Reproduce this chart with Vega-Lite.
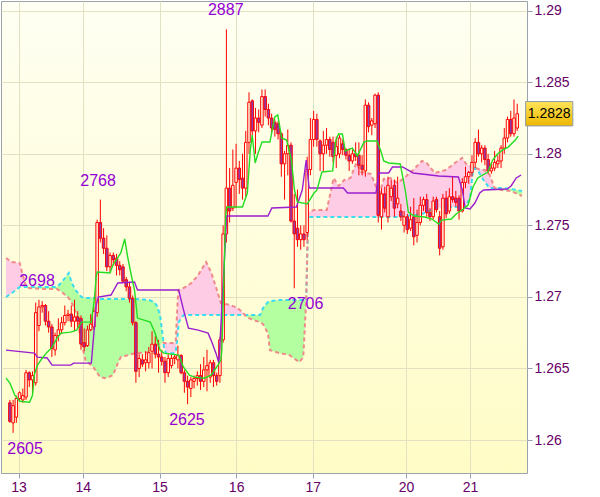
{
  "$schema": "https://vega.github.io/schema/vega-lite/v6.json",
  "width": 526,
  "height": 472,
  "autosize": {"type": "none"},
  "padding": {"left": 1, "top": 1, "right": 73, "bottom": 24},
  "background": "white",
  "config": {
    "view": {"stroke": "#9AA3AC", "strokeWidth": 1, "fill": {"gradient": "linear", "x1": 0, "y1": 0, "x2": 0, "y2": 1, "stops": [{"offset": 0, "color": "#FFFFF3"}, {"offset": 1, "color": "#FFFCC6"}]}},
    "axis": {"labelFont": "Liberation Sans", "labelFontSize": 14, "labelColor": "#660066", "gridColor": "#E2E2C2", "tickColor": "#9AA3AC", "domain": false, "tickSize": 5}
  },
  "datasets": {
    "candles": [
      {"i":1,"o":1.2626,"h":1.2628,"l":1.2612,"c":1.2613},
      {"i":2,"o":1.2612,"h":1.2628,"l":1.2605,"c":1.2624},
      {"i":3,"o":1.2616,"h":1.2631,"l":1.2612,"c":1.2629},
      {"i":4,"o":1.2629,"h":1.2634,"l":1.2627,"c":1.2633},
      {"i":5,"o":1.2628,"h":1.2636,"l":1.2626,"c":1.2631},
      {"i":6,"o":1.2630,"h":1.2649,"l":1.2628,"c":1.2647},
      {"i":7,"o":1.2647,"h":1.2648,"l":1.2637,"c":1.2642},
      {"i":8,"o":1.2642,"h":1.2648,"l":1.2631,"c":1.2645},
      {"i":9,"o":1.2640,"h":1.2696,"l":1.2638,"c":1.2689},
      {"i":10,"o":1.2680,"h":1.2698,"l":1.2676,"c":1.2693},
      {"i":11,"o":1.2693,"h":1.2697,"l":1.2689,"c":1.2694},
      {"i":12,"o":1.2694,"h":1.2695,"l":1.2680,"c":1.2683},
      {"i":13,"o":1.2683,"h":1.2690,"l":1.2675,"c":1.2679},
      {"i":14,"o":1.2679,"h":1.2681,"l":1.2658,"c":1.2664},
      {"i":15,"o":1.2663,"h":1.2675,"l":1.2659,"c":1.2673},
      {"i":16,"o":1.2673,"h":1.2685,"l":1.2669,"c":1.2677},
      {"i":17,"o":1.2677,"h":1.2686,"l":1.2674,"c":1.2682},
      {"i":18,"o":1.2682,"h":1.2694,"l":1.2680,"c":1.2687},
      {"i":19,"o":1.2687,"h":1.2691,"l":1.2683,"c":1.2688},
      {"i":20,"o":1.2688,"h":1.2694,"l":1.2679,"c":1.2683},
      {"i":21,"o":1.2683,"h":1.2698,"l":1.2676,"c":1.2686},
      {"i":22,"o":1.2686,"h":1.2690,"l":1.2678,"c":1.2683},
      {"i":23,"o":1.2685,"h":1.2687,"l":1.2663,"c":1.2667},
      {"i":24,"o":1.2668,"h":1.2678,"l":1.2662,"c":1.2665},
      {"i":25,"o":1.2666,"h":1.2680,"l":1.2665,"c":1.2677},
      {"i":26,"o":1.2677,"h":1.2688,"l":1.2676,"c":1.2681},
      {"i":27,"o":1.2679,"h":1.2693,"l":1.2677,"c":1.2690},
      {"i":28,"o":1.2689,"h":1.2754,"l":1.2686,"c":1.2752},
      {"i":29,"o":1.2752,"h":1.2768,"l":1.2738,"c":1.2741},
      {"i":30,"o":1.2741,"h":1.2748,"l":1.2730,"c":1.2734},
      {"i":31,"o":1.2734,"h":1.2743,"l":1.2718,"c":1.2721},
      {"i":32,"o":1.2721,"h":1.2731,"l":1.2717,"c":1.2729},
      {"i":33,"o":1.2729,"h":1.2731,"l":1.2722,"c":1.2726},
      {"i":34,"o":1.2727,"h":1.2730,"l":1.2715,"c":1.2722},
      {"i":35,"o":1.2722,"h":1.2725,"l":1.2715,"c":1.2719},
      {"i":36,"o":1.2721,"h":1.2723,"l":1.2710,"c":1.2711},
      {"i":37,"o":1.2712,"h":1.2714,"l":1.2704,"c":1.2707},
      {"i":38,"o":1.2707,"h":1.2710,"l":1.2696,"c":1.2699},
      {"i":39,"o":1.2699,"h":1.2701,"l":1.2680,"c":1.2682},
      {"i":40,"o":1.2682,"h":1.2683,"l":1.2640,"c":1.2648},
      {"i":41,"o":1.2650,"h":1.2660,"l":1.2644,"c":1.2657},
      {"i":42,"o":1.2656,"h":1.2660,"l":1.2651,"c":1.2653},
      {"i":43,"o":1.2654,"h":1.2662,"l":1.2648,"c":1.2656},
      {"i":44,"o":1.2654,"h":1.2665,"l":1.2650,"c":1.2661},
      {"i":45,"o":1.2662,"h":1.2676,"l":1.2650,"c":1.2667},
      {"i":46,"o":1.2667,"h":1.2673,"l":1.2657,"c":1.2660},
      {"i":47,"o":1.2660,"h":1.2670,"l":1.2647,"c":1.2658},
      {"i":48,"o":1.2658,"h":1.2663,"l":1.2652,"c":1.2655},
      {"i":49,"o":1.2655,"h":1.2658,"l":1.2640,"c":1.2647},
      {"i":50,"o":1.2647,"h":1.2660,"l":1.2644,"c":1.2657},
      {"i":51,"o":1.2652,"h":1.2660,"l":1.2650,"c":1.2657},
      {"i":52,"o":1.2657,"h":1.2660,"l":1.2653,"c":1.2658},
      {"i":53,"o":1.2656,"h":1.2666,"l":1.2650,"c":1.2659},
      {"i":54,"o":1.2659,"h":1.2660,"l":1.2646,"c":1.2647},
      {"i":55,"o":1.2647,"h":1.2649,"l":1.2633,"c":1.2641},
      {"i":56,"o":1.2641,"h":1.2645,"l":1.2625,"c":1.2637},
      {"i":57,"o":1.2636,"h":1.2644,"l":1.2630,"c":1.2642},
      {"i":58,"o":1.2641,"h":1.2645,"l":1.2636,"c":1.2643},
      {"i":59,"o":1.2643,"h":1.2648,"l":1.2638,"c":1.2645},
      {"i":60,"o":1.2645,"h":1.2653,"l":1.2635,"c":1.2641},
      {"i":61,"o":1.2641,"h":1.2658,"l":1.2637,"c":1.2649},
      {"i":62,"o":1.2649,"h":1.2663,"l":1.2634,"c":1.2652},
      {"i":63,"o":1.2644,"h":1.2656,"l":1.2640,"c":1.2654},
      {"i":64,"o":1.2654,"h":1.2656,"l":1.2637,"c":1.2645},
      {"i":65,"o":1.2645,"h":1.2647,"l":1.2638,"c":1.2641},
      {"i":66,"o":1.2645,"h":1.2672,"l":1.2640,"c":1.2670},
      {"i":67,"o":1.2670,"h":1.2750,"l":1.2668,"c":1.2744},
      {"i":68,"o":1.2744,"h":1.2887,"l":1.2738,"c":1.2776},
      {"i":69,"o":1.2776,"h":1.2790,"l":1.2752,"c":1.2760},
      {"i":70,"o":1.2762,"h":1.2803,"l":1.2760,"c":1.2778},
      {"i":71,"o":1.2780,"h":1.2807,"l":1.2762,"c":1.2790},
      {"i":72,"o":1.2790,"h":1.2795,"l":1.2772,"c":1.2782},
      {"i":73,"o":1.2783,"h":1.2800,"l":1.2768,"c":1.2776},
      {"i":74,"o":1.2776,"h":1.2816,"l":1.2770,"c":1.2808},
      {"i":75,"o":1.2808,"h":1.2843,"l":1.2800,"c":1.2836},
      {"i":76,"o":1.2837,"h":1.2838,"l":1.2813,"c":1.2816},
      {"i":77,"o":1.2816,"h":1.2832,"l":1.2800,"c":1.2825},
      {"i":78,"o":1.2825,"h":1.2831,"l":1.2815,"c":1.2822},
      {"i":79,"o":1.2820,"h":1.2845,"l":1.2818,"c":1.2840},
      {"i":80,"o":1.2840,"h":1.2845,"l":1.2826,"c":1.2831},
      {"i":81,"o":1.2831,"h":1.2835,"l":1.2820,"c":1.2825},
      {"i":82,"o":1.2825,"h":1.2828,"l":1.2815,"c":1.2818},
      {"i":83,"o":1.2822,"h":1.2824,"l":1.2812,"c":1.2817},
      {"i":84,"o":1.2821,"h":1.2823,"l":1.2810,"c":1.2814},
      {"i":85,"o":1.2814,"h":1.2815,"l":1.2784,"c":1.2793},
      {"i":86,"o":1.2793,"h":1.2802,"l":1.2768,"c":1.2800},
      {"i":87,"o":1.2800,"h":1.2817,"l":1.2785,"c":1.2806},
      {"i":88,"o":1.2806,"h":1.2808,"l":1.2752,"c":1.2753},
      {"i":89,"o":1.2753,"h":1.2772,"l":1.2706,"c":1.2744},
      {"i":90,"o":1.2748,"h":1.2775,"l":1.2735,"c":1.2740},
      {"i":91,"o":1.2740,"h":1.2750,"l":1.2733,"c":1.2744},
      {"i":92,"o":1.2744,"h":1.2750,"l":1.2735,"c":1.2740},
      {"i":93,"o":1.2745,"h":1.2798,"l":1.2740,"c":1.2789},
      {"i":94,"o":1.2789,"h":1.2825,"l":1.2785,"c":1.2810},
      {"i":95,"o":1.2810,"h":1.2830,"l":1.2805,"c":1.2824},
      {"i":96,"o":1.2824,"h":1.2828,"l":1.2805,"c":1.2810},
      {"i":97,"o":1.2809,"h":1.2810,"l":1.2788,"c":1.2800},
      {"i":98,"o":1.2800,"h":1.2816,"l":1.2788,"c":1.2806},
      {"i":99,"o":1.2806,"h":1.2818,"l":1.2800,"c":1.2810},
      {"i":100,"o":1.2810,"h":1.2812,"l":1.2798,"c":1.2803},
      {"i":101,"o":1.2808,"h":1.2812,"l":1.2794,"c":1.2798},
      {"i":102,"o":1.2799,"h":1.2812,"l":1.2790,"c":1.2805},
      {"i":103,"o":1.2800,"h":1.2813,"l":1.2797,"c":1.2811},
      {"i":104,"o":1.2807,"h":1.2810,"l":1.2799,"c":1.2803},
      {"i":105,"o":1.2803,"h":1.2804,"l":1.2796,"c":1.2799},
      {"i":106,"o":1.2799,"h":1.2804,"l":1.2788,"c":1.2795},
      {"i":107,"o":1.2795,"h":1.2803,"l":1.2793,"c":1.2800},
      {"i":108,"o":1.2800,"h":1.2808,"l":1.2795,"c":1.2798},
      {"i":109,"o":1.2799,"h":1.2808,"l":1.2785,"c":1.2792},
      {"i":110,"o":1.2792,"h":1.2799,"l":1.2785,"c":1.2789},
      {"i":111,"o":1.2788,"h":1.2838,"l":1.2784,"c":1.2834},
      {"i":112,"o":1.2834,"h":1.2836,"l":1.2815,"c":1.2819},
      {"i":113,"o":1.2820,"h":1.2825,"l":1.2813,"c":1.2823},
      {"i":114,"o":1.2821,"h":1.2842,"l":1.2818,"c":1.2841},
      {"i":115,"o":1.2841,"h":1.2843,"l":1.2752,"c":1.2757},
      {"i":116,"o":1.2756,"h":1.2776,"l":1.2747,"c":1.2772},
      {"i":117,"o":1.2772,"h":1.2777,"l":1.2759,"c":1.2762},
      {"i":118,"o":1.2756,"h":1.2784,"l":1.2752,"c":1.2778},
      {"i":119,"o":1.2770,"h":1.2782,"l":1.2767,"c":1.2776},
      {"i":120,"o":1.2778,"h":1.2782,"l":1.2756,"c":1.2762},
      {"i":121,"o":1.2765,"h":1.2784,"l":1.2762,"c":1.2769},
      {"i":122,"o":1.2760,"h":1.2765,"l":1.2753,"c":1.2756},
      {"i":123,"o":1.2750,"h":1.2760,"l":1.2745,"c":1.2756},
      {"i":124,"o":1.2756,"h":1.2758,"l":1.2744,"c":1.2747},
      {"i":125,"o":1.2748,"h":1.2763,"l":1.2746,"c":1.2754},
      {"i":126,"o":1.2756,"h":1.2769,"l":1.2736,"c":1.2742},
      {"i":127,"o":1.2743,"h":1.2761,"l":1.2738,"c":1.2752},
      {"i":128,"o":1.2752,"h":1.2770,"l":1.2750,"c":1.2764},
      {"i":129,"o":1.2764,"h":1.2770,"l":1.2760,"c":1.2768},
      {"i":130,"o":1.2768,"h":1.2772,"l":1.2756,"c":1.2759},
      {"i":131,"o":1.2759,"h":1.2762,"l":1.2753,"c":1.2756},
      {"i":132,"o":1.2756,"h":1.2770,"l":1.2754,"c":1.2767},
      {"i":133,"o":1.2768,"h":1.2770,"l":1.2759,"c":1.2761},
      {"i":134,"o":1.2756,"h":1.2760,"l":1.2729,"c":1.2734},
      {"i":135,"o":1.2735,"h":1.2772,"l":1.2733,"c":1.2769},
      {"i":136,"o":1.2769,"h":1.2774,"l":1.2755,"c":1.2758},
      {"i":137,"o":1.2760,"h":1.2776,"l":1.2758,"c":1.2770},
      {"i":138,"o":1.2770,"h":1.2784,"l":1.2766,"c":1.2768},
      {"i":139,"o":1.2769,"h":1.2774,"l":1.2763,"c":1.2766},
      {"i":140,"o":1.2769,"h":1.2771,"l":1.2754,"c":1.2760},
      {"i":141,"o":1.2760,"h":1.2783,"l":1.2759,"c":1.2780},
      {"i":142,"o":1.2780,"h":1.2791,"l":1.2776,"c":1.2784},
      {"i":143,"o":1.2784,"h":1.2788,"l":1.2779,"c":1.2787},
      {"i":144,"o":1.2787,"h":1.2799,"l":1.2784,"c":1.2794},
      {"i":145,"o":1.2794,"h":1.2811,"l":1.2790,"c":1.2808},
      {"i":146,"o":1.2808,"h":1.2817,"l":1.2798,"c":1.2800},
      {"i":147,"o":1.2800,"h":1.2806,"l":1.2794,"c":1.2804},
      {"i":148,"o":1.2804,"h":1.2806,"l":1.2792,"c":1.2796},
      {"i":149,"o":1.2796,"h":1.2800,"l":1.2786,"c":1.2788},
      {"i":150,"o":1.2788,"h":1.2794,"l":1.2786,"c":1.2790},
      {"i":151,"o":1.2790,"h":1.2802,"l":1.2788,"c":1.2794},
      {"i":152,"o":1.2793,"h":1.2799,"l":1.2790,"c":1.2795},
      {"i":153,"o":1.2795,"h":1.2806,"l":1.2790,"c":1.2804},
      {"i":154,"o":1.2804,"h":1.2818,"l":1.2800,"c":1.2811},
      {"i":155,"o":1.2811,"h":1.2826,"l":1.2808,"c":1.2824},
      {"i":156,"o":1.2824,"h":1.2830,"l":1.2812,"c":1.2814},
      {"i":157,"o":1.2814,"h":1.2838,"l":1.2812,"c":1.2825},
      {"i":158,"o":1.2818,"h":1.2835,"l":1.2816,"c":1.2828}
    ],
    "tenkan": [
      {"i":-0.2,"v":1.26432},{"i":1.02,"v":1.26397},{"i":2.53,"v":1.26313},{"i":4.05,"v":1.26271},{"i":7.09,"v":1.26264},{"i":8.0,"v":1.26313},{"i":8.61,"v":1.2646},{"i":9.52,"v":1.26523},{"i":11.04,"v":1.26573},{"i":12.55,"v":1.26614},{"i":14.07,"v":1.26649},{"i":15.59,"v":1.26712},{"i":16.8,"v":1.26747},{"i":19.84,"v":1.26754},{"i":21.66,"v":1.26768},{"i":23.18,"v":1.26824},{"i":26.21,"v":1.26824},{"i":27.12,"v":1.26978},{"i":27.73,"v":1.27146},{"i":28.04,"v":1.27174},{"i":31.98,"v":1.27167},{"i":32.89,"v":1.27223},{"i":35.32,"v":1.27307},{"i":36.54,"v":1.27405},{"i":37.45,"v":1.27279},{"i":38.36,"v":1.27174},{"i":39.57,"v":1.27048},{"i":40.48,"v":1.26852},{"i":44.43,"v":1.26824},{"i":45.95,"v":1.26747},{"i":47.47,"v":1.26628},{"i":48.68,"v":1.26607},{"i":53.23,"v":1.26593},{"i":54.75,"v":1.26509},{"i":56.57,"v":1.26453},{"i":58.09,"v":1.26439},{"i":61.13,"v":1.26432},{"i":63.25,"v":1.26453},{"i":65.38,"v":1.26523},{"i":66.29,"v":1.26558},{"i":66.59,"v":1.26628},{"i":67.2,"v":1.27118},{"i":67.81,"v":1.27572},{"i":68.11,"v":1.27628},{"i":72.97,"v":1.27628},{"i":74.48,"v":1.27726},{"i":75.39,"v":1.28026},{"i":76.0,"v":1.28131},{"i":76.91,"v":1.27936},{"i":77.82,"v":1.28005},{"i":79.04,"v":1.28082},{"i":81.47,"v":1.28082},{"i":82.98,"v":1.28257},{"i":83.9,"v":1.28271},{"i":85.11,"v":1.28111},{"i":86.63,"v":1.28096},{"i":88.14,"v":1.27956},{"i":89.06,"v":1.27747},{"i":89.97,"v":1.27663},{"i":93.0,"v":1.27649},{"i":95.13,"v":1.27726},{"i":96.04,"v":1.27747},{"i":97.56,"v":1.27873},{"i":100.9,"v":1.2788},{"i":101.8,"v":1.28089},{"i":102.7,"v":1.28138},{"i":103.9,"v":1.28138},{"i":104.8,"v":1.28019},{"i":107,"v":1.2804},{"i":108.5,"v":1.27985},{"i":110.6,"v":1.28082},{"i":111.5,"v":1.28089},{"i":114.6,"v":1.28089},{"i":115.8,"v":1.28019},{"i":116.7,"v":1.2795},{"i":118.2,"v":1.27936},{"i":121.8,"v":1.27929},{"i":123.4,"v":1.2774},{"i":124.3,"v":1.27593},{"i":126.1,"v":1.27565},{"i":129.4,"v":1.27558},{"i":131.6,"v":1.27544},{"i":133.7,"v":1.27509},{"i":134.6,"v":1.27537},{"i":137.6,"v":1.27544},{"i":139.1,"v":1.27579},{"i":141.3,"v":1.27614},{"i":142.8,"v":1.27642},{"i":144.3,"v":1.27768},{"i":145.8,"v":1.27831},{"i":148.9,"v":1.27873},{"i":150.4,"v":1.27956},{"i":151.9,"v":1.27999},{"i":153.4,"v":1.28026},{"i":155.2,"v":1.28047},{"i":157.4,"v":1.28096},{"i":158.3,"v":1.28124}
    ],
    "kijun": [
      {"i":-0.2,"v":1.26628},{"i":8.61,"v":1.26607},{"i":9.52,"v":1.26579},{"i":12.55,"v":1.26573},{"i":14.07,"v":1.26523},{"i":19.84,"v":1.26523},{"i":20.75,"v":1.26537},{"i":26.21,"v":1.26537},{"i":27.73,"v":1.26943},{"i":28.34,"v":1.26999},{"i":32.29,"v":1.27013},{"i":34.41,"v":1.27097},{"i":39.57,"v":1.27104},{"i":40.48,"v":1.27048},{"i":53.23,"v":1.27048},{"i":54.75,"v":1.26908},{"i":56.27,"v":1.26782},{"i":59.3,"v":1.26768},{"i":62.34,"v":1.26747},{"i":63.25,"v":1.26698},{"i":64.77,"v":1.26607},{"i":65.68,"v":1.26537},{"i":68.11,"v":1.27565},{"i":80.86,"v":1.27565},{"i":82.07,"v":1.27621},{"i":89.66,"v":1.27628},{"i":91.48,"v":1.27747},{"i":92.7,"v":1.27956},{"i":93.61,"v":1.27761},{"i":104.2,"v":1.27761},{"i":105.5,"v":1.27726},{"i":114.3,"v":1.27726},{"i":115.2,"v":1.27866},{"i":118.2,"v":1.27866},{"i":119.4,"v":1.27908},{"i":122.5,"v":1.27908},{"i":125.8,"v":1.27866},{"i":133.7,"v":1.27845},{"i":139.8,"v":1.27838},{"i":141,"v":1.27747},{"i":141.9,"v":1.27621},{"i":143.4,"v":1.27614},{"i":144.9,"v":1.27656},{"i":146.4,"v":1.27726},{"i":147.6,"v":1.27747},{"i":154.9,"v":1.27754},{"i":156.1,"v":1.27775},{"i":157.7,"v":1.27831},{"i":159.2,"v":1.27852}
    ],
    "cloud": [
      {"i":-0.2,"a":1.26999,"b":1.27272,"s":0,"f":"p"},{"i":1.62,"a":1.27027,"b":1.27244,"s":0,"f":"p"},{"i":4.05,"a":1.27069,"b":1.27237,"s":0,"f":"p"},{"i":4.96,"a":1.27069,"b":1.27153,"s":0,"f":"p"},{"i":5.87,"a":1.27069,"b":1.27083,"s":0,"f":"p"},{"i":6.28,"a":1.27069,"b":1.27069,"s":0,"f":"p"},
      {"i":6.28,"a":1.27069,"b":1.27069,"s":1,"f":"g"},{"i":6.48,"a":1.27069,"b":1.27062,"s":1,"f":"g"},{"i":11.64,"a":1.27069,"b":1.27055,"s":1,"f":"g"},{"i":15.59,"a":1.27069,"b":1.27055,"s":1,"f":"g"},{"i":17.11,"a":1.27104,"b":1.27034,"s":1,"f":"g"},{"i":19.23,"a":1.27167,"b":1.26992,"s":1,"f":"g"},{"i":20.14,"a":1.27097,"b":1.26957,"s":1,"f":"g"},{"i":21.36,"a":1.27048,"b":1.26894,"s":1,"f":"g"},{"i":22.27,"a":1.2702,"b":1.26789,"s":1,"f":"g"},{"i":23.18,"a":1.26999,"b":1.26677,"s":1,"f":"g"},{"i":24.39,"a":1.26992,"b":1.26558,"s":1,"f":"g"},{"i":26.82,"a":1.26992,"b":1.26509,"s":1,"f":"g"},{"i":28.95,"a":1.26985,"b":1.26439,"s":1,"f":"g"},{"i":30.77,"a":1.26985,"b":1.26432,"s":1,"f":"g"},{"i":32.89,"a":1.26985,"b":1.26453,"s":1,"f":"g"},{"i":34.41,"a":1.26985,"b":1.26537,"s":1,"f":"g"},{"i":35.32,"a":1.26985,"b":1.26579,"s":1,"f":"g"},{"i":39.87,"a":1.26985,"b":1.26607,"s":1,"f":"g"},{"i":44.13,"a":1.26978,"b":1.26614,"s":1,"f":"g"},{"i":45.64,"a":1.26964,"b":1.26642,"s":1,"f":"g"},{"i":46.55,"a":1.26936,"b":1.26663,"s":1,"f":"g"},{"i":47.47,"a":1.26873,"b":1.2667,"s":1,"f":"g"},{"i":48.07,"a":1.26768,"b":1.26677,"s":1,"f":"g"},{"i":48.54,"a":1.2668,"b":1.2668,"s":1,"f":"g"},
      {"i":48.54,"a":1.2668,"b":1.2668,"s":2,"f":"p"},{"i":48.68,"a":1.26649,"b":1.26677,"s":2,"f":"p"},{"i":49.29,"a":1.26607,"b":1.26677,"s":2,"f":"p"},{"i":51.71,"a":1.26607,"b":1.26677,"s":2,"f":"p"},{"i":52.32,"a":1.26614,"b":1.26684,"s":2,"f":"p"},{"i":52.93,"a":1.26733,"b":1.26978,"s":2,"f":"p"},{"i":53.23,"a":1.26824,"b":1.27048,"s":2,"f":"p"},{"i":54.75,"a":1.26873,"b":1.27062,"s":2,"f":"p"},{"i":57.18,"a":1.26873,"b":1.27097,"s":2,"f":"p"},{"i":59.3,"a":1.26873,"b":1.27153,"s":2,"f":"p"},{"i":61.73,"a":1.26873,"b":1.27244,"s":2,"f":"p"},{"i":63.25,"a":1.26873,"b":1.27174,"s":2,"f":"p"},{"i":64.77,"a":1.26873,"b":1.27069,"s":2,"f":"p"},{"i":66.29,"a":1.26873,"b":1.26957,"s":2,"f":"p"},{"i":69.32,"a":1.26873,"b":1.26943,"s":2,"f":"p"},{"i":71.45,"a":1.26873,"b":1.26922,"s":2,"f":"p"},{"i":73.27,"a":1.26873,"b":1.26887,"s":2,"f":"p"},{"i":73.72,"a":1.26873,"b":1.26873,"s":2,"f":"p"},
      {"i":73.72,"a":1.26873,"b":1.26873,"s":3,"f":"g"},{"i":74.18,"a":1.26873,"b":1.26859,"s":3,"f":"g"},{"i":76.31,"a":1.26873,"b":1.26838,"s":3,"f":"g"},{"i":78.43,"a":1.26873,"b":1.26824,"s":3,"f":"g"},{"i":79.34,"a":1.26922,"b":1.2681,"s":3,"f":"g"},{"i":80.86,"a":1.26964,"b":1.26747,"s":3,"f":"g"},{"i":81.47,"a":1.26971,"b":1.26628,"s":3,"f":"g"},{"i":84.5,"a":1.26978,"b":1.26607,"s":3,"f":"g"},{"i":87.54,"a":1.26978,"b":1.26593,"s":3,"f":"g"},{"i":90.57,"a":1.26978,"b":1.26544,"s":3,"f":"g"},{"i":91.79,"a":1.26978,"b":1.26579,"s":3,"f":"g"},{"i":92.7,"a":1.26978,"b":1.26978,"s":3,"f":"g"},
      {"i":92.7,"a":1.26978,"b":1.26978,"s":4,"f":"p"},{"i":93.31,"a":1.27558,"b":1.27593,"s":4,"f":"p"},{"i":95.13,"a":1.27558,"b":1.27607,"s":4,"f":"p"},{"i":99.07,"a":1.27558,"b":1.27607,"s":4,"f":"p"},{"i":101.2,"a":1.27558,"b":1.27831,"s":4,"f":"p"},{"i":102.7,"a":1.27558,"b":1.27775,"s":4,"f":"p"},{"i":104.5,"a":1.27558,"b":1.27817,"s":4,"f":"p"},{"i":106.4,"a":1.27558,"b":1.27831,"s":4,"f":"p"},{"i":108.2,"a":1.27558,"b":1.27936,"s":4,"f":"p"},{"i":109.7,"a":1.27558,"b":1.27873,"s":4,"f":"p"},{"i":112.7,"a":1.27558,"b":1.27859,"s":4,"f":"p"},{"i":114,"a":1.27558,"b":1.27789,"s":4,"f":"p"},{"i":115.2,"a":1.27558,"b":1.27705,"s":4,"f":"p"},{"i":116.7,"a":1.27558,"b":1.27824,"s":4,"f":"p"},{"i":118.8,"a":1.27558,"b":1.27831,"s":4,"f":"p"},{"i":120.9,"a":1.27558,"b":1.27796,"s":4,"f":"p"},{"i":123.4,"a":1.27565,"b":1.27838,"s":4,"f":"p"},{"i":125.8,"a":1.27572,"b":1.27887,"s":4,"f":"p"},{"i":128.5,"a":1.27579,"b":1.2795,"s":4,"f":"p"},{"i":130,"a":1.27593,"b":1.27936,"s":4,"f":"p"},{"i":132.5,"a":1.27621,"b":1.27866,"s":4,"f":"p"},{"i":135.8,"a":1.27628,"b":1.27887,"s":4,"f":"p"},{"i":137.6,"a":1.27628,"b":1.27915,"s":4,"f":"p"},{"i":139.1,"a":1.27628,"b":1.27943,"s":4,"f":"p"},{"i":141,"a":1.27628,"b":1.27971,"s":4,"f":"p"},{"i":142.2,"a":1.27642,"b":1.27929,"s":4,"f":"p"},{"i":143.4,"a":1.27691,"b":1.27915,"s":4,"f":"p"},{"i":144.3,"a":1.27887,"b":1.27901,"s":4,"f":"p"},{"i":144.9,"a":1.27901,"b":1.27901,"s":4,"f":"p"},{"i":146.1,"a":1.27873,"b":1.27894,"s":4,"f":"p"},{"i":147.9,"a":1.27803,"b":1.27887,"s":4,"f":"p"},{"i":149.5,"a":1.27761,"b":1.27852,"s":4,"f":"p"},{"i":151,"a":1.27761,"b":1.27761,"s":4,"f":"p"},
      {"i":151,"a":1.27761,"b":1.27761,"s":5,"f":"g"},{"i":153.1,"a":1.27761,"b":1.27747,"s":5,"f":"g"},{"i":156.1,"a":1.27754,"b":1.2774,"s":5,"f":"g"},{"i":159.48,"a":1.2774,"b":1.27705,"s":5,"f":"g"}
    ],
    "marks": [
      {"t":"2887","i":67.8,"p":1.2887,"k":"hi"},
      {"t":"2768","i":28.3,"p":1.2768,"k":"hi"},
      {"t":"2698","i":9.4,"p":1.2698,"k":"hi"},
      {"t":"2706","i":92.5,"p":1.2706,"k":"lo"},
      {"t":"2625","i":55.8,"p":1.2625,"k":"lo"},
      {"t":"2605","i":5.7,"p":1.2605,"k":"lo"}
    ]
  },
  "layer": [
    {
      "data": {"name": "cloud"},
      "mark": {"type": "area", "opacity": 1},
      "encoding": {
        "x": {"field": "i", "type": "quantitative", "scale": {"domain": [-0.2, 159.48], "nice": false, "zero": false}, "title": null,
          "axis": {"orient": "bottom", "values": [3.69, 23.57, 47.31, 71.02, 94.76, 123.6, 143.4], "grid": true, "labelPadding": 2,
            "labelExpr": "datum.value < 10 ? '13' : datum.value < 30 ? '14' : datum.value < 60 ? '15' : datum.value < 80 ? '16' : datum.value < 110 ? '17' : datum.value < 130 ? '20' : '21'"}},
        "y": {"field": "a", "type": "quantitative", "scale": {"domain": [1.257694, 1.290678], "nice": false, "zero": false}, "title": null,
          "axis": {"orient": "right", "values": [1.26, 1.265, 1.27, 1.275, 1.28, 1.285, 1.29], "format": ".3~f", "grid": true, "labelPadding": 2}},
        "y2": {"field": "b"},
        "color": {"field": "f", "type": "nominal", "scale": {"domain": ["g", "p"], "range": ["#B4FFA0", "#FFCCE6"]}, "legend": null},
        "detail": {"field": "s", "type": "nominal"}
      }
    },
    {
      "data": {"name": "cloud"},
      "mark": {"type": "line", "color": "#3CDCF0", "strokeWidth": 2, "strokeDash": [4, 3]},
      "encoding": {
        "x": {"field": "i", "type": "quantitative", "title": null},
        "y": {"field": "a", "type": "quantitative", "title": null}
      }
    },
    {
      "data": {"name": "cloud"},
      "mark": {"type": "line", "color": "#F08A8A", "strokeWidth": 2, "strokeDash": [4, 3]},
      "encoding": {
        "x": {"field": "i", "type": "quantitative", "title": null},
        "y": {"field": "b", "type": "quantitative", "title": null}
      }
    },
    {
      "data": {"name": "candles"},
      "mark": {"type": "rule", "color": "#FF0000", "strokeWidth": 1},
      "encoding": {
        "x": {"field": "i", "type": "quantitative", "title": null},
        "y": {"field": "l", "type": "quantitative", "title": null},
        "y2": {"field": "h"}
      }
    },
    {
      "data": {"name": "candles"},
      "mark": {"type": "bar", "size": 2.5, "stroke": "#FF0000", "strokeWidth": 1},
      "encoding": {
        "x": {"field": "i", "type": "quantitative", "title": null},
        "y": {"field": "o", "type": "quantitative", "title": null},
        "y2": {"field": "c"},
        "fill": {"condition": {"test": "datum.c >= datum.o", "value": "#FFFEE2"}, "value": "#8E3CB0"}
      }
    },
    {
      "data": {"name": "kijun"},
      "mark": {"type": "line", "color": "#9A1ED0", "strokeWidth": 1.4},
      "encoding": {
        "x": {"field": "i", "type": "quantitative", "title": null},
        "y": {"field": "v", "type": "quantitative", "title": null}
      }
    },
    {
      "data": {"name": "tenkan"},
      "mark": {"type": "line", "color": "#22DD22", "strokeWidth": 1.4},
      "encoding": {
        "x": {"field": "i", "type": "quantitative", "title": null},
        "y": {"field": "v", "type": "quantitative", "title": null}
      }
    },
    {
      "data": {"name": "marks"},
      "transform": [{"filter": "datum.k == 'hi'"}],
      "mark": {"type": "text", "font": "Liberation Sans", "fontSize": 16, "color": "#9400D3", "baseline": "middle", "dy": -19},
      "encoding": {
        "x": {"field": "i", "type": "quantitative", "title": null},
        "y": {"field": "p", "type": "quantitative", "title": null},
        "text": {"field": "t"}
      }
    },
    {
      "data": {"name": "marks"},
      "transform": [{"filter": "datum.k == 'lo'"}],
      "mark": {"type": "text", "font": "Liberation Sans", "fontSize": 16, "color": "#9400D3", "baseline": "middle", "dy": 16},
      "encoding": {
        "x": {"field": "i", "type": "quantitative", "title": null},
        "y": {"field": "p", "type": "quantitative", "title": null},
        "text": {"field": "t"}
      }
    },
    {
      "data": {"name": "candles"},
      "transform": [{"filter": "datum.i == 158"}],
      "mark": {"type": "rect", "stroke": "#8C9AA8", "strokeWidth": 1, "fill": {"gradient": "linear", "x1": 0, "y1": 0, "x2": 0, "y2": 1, "stops": [{"offset": 0, "color": "#FFE45A"}, {"offset": 1, "color": "#EDB800"}]}},
      "encoding": {
        "x": {"datum": 160.6},
        "x2": {"datum": 175.2},
        "y": {"datum": 1.28365},
        "y2": {"datum": 1.28195}
      }
    },
    {
      "data": {"name": "candles"},
      "transform": [{"filter": "datum.i == 158"}],
      "mark": {"type": "text", "font": "Liberation Sans", "fontSize": 14, "color": "#000000", "baseline": "middle", "align": "center", "dx": 32},
      "encoding": {
        "x": {"field": "i", "type": "quantitative", "title": null},
        "y": {"field": "c", "type": "quantitative", "title": null},
        "text": {"field": "c", "type": "quantitative", "format": ".4f"}
      }
    }
  ]
}
